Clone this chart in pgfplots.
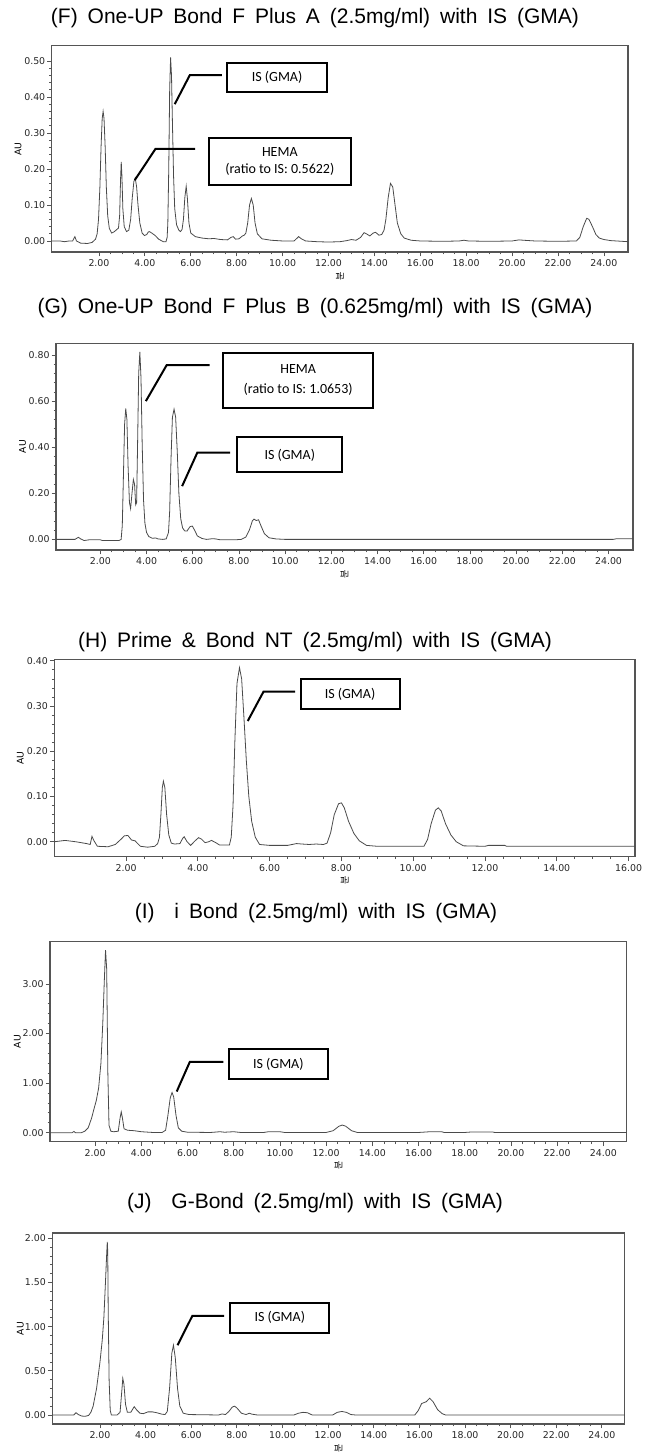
\documentclass[border=0pt]{standalone}
\usepackage{pgfplots}
\pgfplotsset{compat=1.18}
\usepackage{fontspec}
\setmainfont{Liberation Sans}
\newfontfamily\titlefont[WordSpace=1.7]{Liberation Sans}
\newfontfamily\tickfont{DejaVu Sans}
\newfontfamily\boxfont{Carlito}
\newfontfamily\krfont{Noto Sans CJK KR}
\definecolor{axgray}{HTML}{555555}
\definecolor{curvegray}{HTML}{4A4A4A}
\pgfplotsset{
  chrom/.style={
    scale only axis, anchor=south west,
    axis line style={axgray, line width=0.6pt},
    tick style={axgray, line width=0.4pt},
    tick align=outside, major tick length=2.2pt, minor tick length=1.2pt,
    xtick pos=bottom, ytick pos=left,
    xtick={2,4,...,24}, minor x tick num=3, minor y tick num=4,
    ticklabel style={font=\tickfont\fontsize{4.7}{5}\selectfont, text=black!85},
    yticklabel style={xshift=2.5pt}, xticklabel style={yshift=1.8pt},
    /pgf/number format/fixed, /pgf/number format/fixed zerofill,
    /pgf/number format/precision=2, /pgf/number format/assume math mode=true,
    ylabel={AU}, ylabel style={font=\tickfont\fontsize{4.6}{5}\selectfont, at={(axis description cs:0,0.5)}, anchor=center},
    xlabel={\krfont 분}, xlabel style={font=\fontsize{4.6}{5}\selectfont, at={(axis description cs:0.5,0)}, anchor=center, rotate=90},
    cycle list={{curvegray, line width=0.65pt, mark=none}},
  },
}
\tikzset{
  ann/.style={line width=1pt, black},
  boxtxt/.style={font=\boxfont\fontsize{7}{8.7}\selectfont, align=center},
}
\begin{document}
\begin{tikzpicture}
\useasboundingbox (0,0) rectangle (322pt,728pt);
% titles
\node[font=\titlefont\fontsize{10.5}{12}\selectfont] at (157.5pt,718.85pt) {(F) One-UP Bond F Plus A (2.5mg/ml) with IS (GMA)};
\node[font=\titlefont\fontsize{10.5}{12}\selectfont] at (157.5pt,573.85pt) {(G) One-UP Bond F Plus B (0.625mg/ml) with IS (GMA)};
\node[font=\titlefont\fontsize{10.5}{12}\selectfont] at (157.5pt,407.15pt) {(H) Prime \& Bond NT (2.5mg/ml) with IS (GMA)};
\node[font=\titlefont\fontsize{10.5}{12}\selectfont] at (158pt,271.35pt) {(I)\ \ i Bond (2.5mg/ml) with IS (GMA)};
\node[font=\titlefont\fontsize{10.5}{12}\selectfont] at (157.5pt,126.35pt) {(J)\ \ G-Bond (2.5mg/ml) with IS (GMA)};

% ---------------- F ----------------
\begin{axis}[chrom, at={(25.85pt,602pt)}, width=288.15pt, height=103.15pt,
  xmin=-0.06, xmax=25.05, ymin=-0.0306, ymax=0.5425, ytick={0,0.1,...,0.5},
  ylabel style={yshift=16.85pt}, xlabel style={xshift=-12pt}]
\addplot coordinates {(-0.06,0) (0.3,0.0) (0.5,-0.002) (0.7,0.0) (0.85,0.0) (0.95,0.012) (1.02,0.0) (1.2,-0.006) (1.5,-0.007) (1.7,-0.004) (1.85,0.005) (1.92,0.02) (1.98,0.06) (2.04,0.15) (2.09,0.26) (2.14,0.34) (2.18,0.36) (2.22,0.34) (2.27,0.26) (2.32,0.15) (2.38,0.07) (2.45,0.035) (2.55,0.022) (2.65,0.025) (2.78,0.032) (2.85,0.036) (2.9,0.07) (2.94,0.17) (2.97,0.22) (3.0,0.18) (3.04,0.09) (3.1,0.04) (3.2,0.026) (3.3,0.03) (3.38,0.06) (3.45,0.12) (3.52,0.165) (3.58,0.175) (3.64,0.15) (3.7,0.1) (3.78,0.05) (3.88,0.022) (3.98,0.015) (4.08,0.018) (4.15,0.025) (4.2,0.026) (4.3,0.022) (4.45,0.015) (4.6,0.005) (4.8,-0.002) (4.92,-0.002) (4.97,0.01) (5.0,0.05) (5.04,0.2) (5.08,0.42) (5.12,0.51) (5.16,0.46) (5.2,0.33) (5.25,0.18) (5.3,0.09) (5.38,0.045) (5.48,0.03) (5.55,0.026) (5.62,0.032) (5.68,0.06) (5.74,0.12) (5.8,0.152) (5.85,0.12) (5.92,0.05) (6.0,0.022) (6.2,0.012) (6.5,0.008) (6.8,0.006) (7.0,0.007) (7.3,0.004) (7.6,0.003) (7.75,0.01) (7.85,0.012) (7.95,0.005) (8.1,0.006) (8.25,0.014) (8.33,0.016) (8.4,0.022) (8.48,0.05) (8.56,0.1) (8.64,0.118) (8.72,0.1) (8.8,0.05) (8.9,0.02) (9.1,0.006) (9.5,0.002) (10.0,0.0) (10.5,0.0) (10.6,0.006) (10.7,0.012) (10.82,0.006) (11.0,0.0) (11.5,-0.002) (12.0,-0.003) (12.5,-0.002) (12.8,0.001) (13.0,0.004) (13.2,0.002) (13.4,0.01) (13.55,0.023) (13.65,0.02) (13.8,0.014) (13.95,0.022) (14.05,0.024) (14.2,0.016) (14.32,0.018) (14.42,0.03) (14.5,0.06) (14.6,0.12) (14.7,0.16) (14.8,0.15) (14.9,0.1) (15.0,0.05) (15.15,0.02) (15.3,0.008) (15.6,0.002) (16.0,0.0) (17.0,-0.001) (17.7,0.0) (17.9,0.002) (18.1,0.0) (19.0,-0.001) (20.0,0.0) (20.3,0.003) (20.5,0.002) (21.0,0.0) (22.0,-0.001) (22.8,0.0) (22.95,0.01) (23.1,0.04) (23.25,0.063) (23.35,0.06) (23.5,0.04) (23.65,0.018) (23.8,0.008) (24.0,0.004) (24.3,0.001) (25.05,-0.002)};
\draw[ann] (axis cs:7.36,0.461) -- (axis cs:5.96,0.461) -- (axis cs:5.30,0.38);
\draw[ann, fill=white] (axis cs:7.58,0.415) rectangle (axis cs:11.93,0.495);
\node[boxtxt] at (axis cs:9.76,0.455) {IS (GMA)};
\draw[ann] (axis cs:6.19,0.2556) -- (axis cs:4.46,0.2556) -- (axis cs:3.56,0.169);
\draw[ann, fill=white] (axis cs:6.78,0.156) rectangle (axis cs:12.97,0.287);
\node[boxtxt] at (axis cs:9.88,0.22) {HEMA\\(ratio to IS: 0.5622)};
\end{axis}

% ---------------- G ----------------
\begin{axis}[chrom, at={(28pt,453pt)}, width=288.5pt, height=103.35pt,
  xmin=0.08, xmax=25.06, ymin=-0.046, ymax=0.851, ytick={0,0.2,...,0.8},
  ylabel style={yshift=16.7pt}, xlabel style={xshift=-12pt}]
\addplot coordinates {(0.08,0) (0.9,0) (1.05,0.009) (1.15,0.002) (1.3,-0.005) (1.5,-0.002) (2.0,-0.002) (2.1,-0.005) (2.8,-0.005) (2.9,0.0) (2.95,0.06) (3.0,0.28) (3.05,0.5) (3.1,0.568) (3.15,0.52) (3.2,0.32) (3.26,0.16) (3.31,0.134) (3.37,0.2) (3.43,0.26) (3.48,0.24) (3.53,0.15) (3.57,0.16) (3.61,0.4) (3.66,0.72) (3.71,0.814) (3.76,0.7) (3.81,0.42) (3.87,0.17) (3.93,0.07) (4.0,0.03) (4.1,0.012) (4.25,0.005) (4.4,0.006) (4.5,0.002) (4.7,0.0) (4.85,0.002) (4.95,0.03) (5.0,0.12) (5.06,0.35) (5.12,0.53) (5.19,0.565) (5.26,0.53) (5.33,0.38) (5.4,0.2) (5.48,0.09) (5.56,0.05) (5.65,0.037) (5.75,0.036) (5.88,0.055) (5.98,0.058) (6.08,0.04) (6.2,0.015) (6.4,0.004) (6.6,0.0) (6.85,0.003) (7.0,0.002) (7.2,-0.002) (7.8,-0.002) (8.1,0.0) (8.3,0.01) (8.45,0.04) (8.58,0.08) (8.65,0.088) (8.75,0.082) (8.85,0.085) (8.95,0.06) (9.1,0.025) (9.3,0.007) (9.6,0.002) (10,0.0) (24.2,0.0) (24.35,0.003) (25.06,0.003)};
\draw[ann] (axis cs:6.73,0.756) -- (axis cs:4.87,0.756) -- (axis cs:3.97,0.600);
\draw[ann, fill=white] (axis cs:7.32,0.571) rectangle (axis cs:13.81,0.811);
\node[boxtxt, font=\boxfont\fontsize{7}{9.65}\selectfont] at (axis cs:10.565,0.692) {HEMA\\(ratio to IS: 1.0653)};
\draw[ann] (axis cs:7.62,0.377) -- (axis cs:6.20,0.377) -- (axis cs:5.54,0.231);
\draw[ann, fill=white] (axis cs:7.93,0.293) rectangle (axis cs:12.46,0.444);
\node[boxtxt] at (axis cs:10.2,0.366) {IS (GMA)};
\end{axis}

% ---------------- H ----------------
\begin{axis}[chrom, at={(27.15pt,299.65pt)}, width=290.35pt, height=98.6pt,
  xmin=0, xmax=16.18, ymin=-0.033, ymax=0.403, ytick={0,0.1,...,0.4}, xtick={2,4,...,16},
  ylabel style={yshift=17pt}, xlabel style={xshift=-12pt}]
\addplot coordinates {(0,0) (0.3,0.003) (0.6,0.0) (0.9,-0.004) (1.0,-0.006) (1.05,0.012) (1.1,0.003) (1.2,-0.01) (1.5,-0.011) (1.7,-0.006) (1.85,0.005) (1.95,0.013) (2.05,0.014) (2.15,0.004) (2.25,0.002) (2.4,-0.01) (2.6,-0.012) (2.8,-0.01) (2.88,-0.004) (2.93,0.01) (2.97,0.06) (3.01,0.12) (3.04,0.134) (3.08,0.12) (3.13,0.06) (3.19,0.015) (3.26,-0.003) (3.35,-0.005) (3.5,-0.004) (3.58,0.008) (3.62,0.011) (3.7,0.0) (3.8,-0.008) (3.92,0.002) (4.02,0.009) (4.1,0.006) (4.2,-0.002) (4.3,0.0) (4.38,0.003) (4.5,-0.002) (4.6,-0.007) (4.88,-0.007) (4.93,0.01) (4.98,0.08) (5.03,0.22) (5.09,0.35) (5.16,0.385) (5.22,0.36) (5.28,0.28) (5.35,0.18) (5.42,0.1) (5.5,0.045) (5.6,0.01) (5.72,-0.006) (6.0,-0.008) (6.5,-0.008) (6.75,-0.004) (6.9,-0.005) (7.1,-0.006) (7.3,-0.005) (7.5,-0.006) (7.6,-0.003) (7.7,0.02) (7.8,0.06) (7.92,0.084) (8.0,0.086) (8.08,0.075) (8.2,0.045) (8.35,0.018) (8.5,0.002) (8.7,-0.008) (9.0,-0.01) (10.3,-0.01) (10.4,0.005) (10.5,0.04) (10.62,0.07) (10.7,0.075) (10.78,0.068) (10.9,0.04) (11.05,0.015) (11.2,0.0) (11.4,-0.009) (12.0,-0.01) (12.1,-0.008) (12.55,-0.008) (12.6,-0.01) (16.18,-0.01)};
\draw[ann] (axis cs:6.71,0.332) -- (axis cs:5.83,0.332) -- (axis cs:5.39,0.267);
\draw[ann, fill=white] (axis cs:6.86,0.294) rectangle (axis cs:9.63,0.359);
\node[boxtxt] at (axis cs:8.24,0.326) {IS (GMA)};
\end{axis}

% ---------------- I ----------------
\begin{axis}[chrom, at={(25.05pt,157.15pt)}, width=288.3pt, height=100.1pt,
  xmin=0.05, xmax=25.01, ymin=-0.181, ymax=3.855, ytick={0,1,2,3},
  ylabel style={yshift=16.4pt}, xlabel style={xshift=-12pt}]
\addplot coordinates {(0.05,0) (1.0,0.0) (1.08,0.025) (1.15,0.0) (1.4,0.0) (1.55,0.03) (1.7,0.1) (1.85,0.3) (1.95,0.48) (2.05,0.65) (2.15,0.9) (2.25,1.4) (2.33,2.2) (2.4,3.1) (2.45,3.68) (2.5,3.3) (2.55,1.2) (2.6,0.15) (2.68,0.03) (2.8,0.02) (3.0,0.03) (3.08,0.3) (3.13,0.42) (3.18,0.3) (3.25,0.08) (3.4,0.05) (3.7,0.04) (4.0,0.02) (4.5,0.005) (4.9,0.005) (5.05,0.05) (5.15,0.35) (5.25,0.7) (5.33,0.81) (5.4,0.72) (5.5,0.35) (5.6,0.1) (5.75,0.03) (6.0,0.01) (7.0,0.005) (7.4,0.02) (7.6,0.01) (8.0,0.02) (8.3,0.005) (9.3,0.005) (9.5,0.02) (10.0,0.02) (10.2,0.005) (12.0,0.005) (12.3,0.04) (12.55,0.13) (12.7,0.155) (12.85,0.13) (13.1,0.04) (13.35,0.005) (16.0,0.005) (16.5,0.02) (17.0,0.02) (17.1,0.005) (18.0,0.005) (18.3,0.015) (19.2,0.015) (19.3,0.005) (25.01,0.005)};
\draw[ann] (axis cs:7.55,1.43) -- (axis cs:6.10,1.43) -- (axis cs:5.53,0.83);
\draw[ann, fill=white] (axis cs:7.78,1.077) rectangle (axis cs:12.07,1.68);
\node[boxtxt] at (axis cs:9.93,1.38) {IS (GMA)};
\end{axis}

% ---------------- J ----------------
\begin{axis}[chrom, at={(26.15pt,16pt)}, width=286.2pt, height=95.5pt,
  xmin=-0.09, xmax=25.0, ymin=-0.102, ymax=2.06, ytick={0,0.5,...,2},
  ylabel style={yshift=16pt}, xlabel style={xshift=-12pt}]
\addplot coordinates {(-0.09,0) (0.85,0) (0.95,0.026) (1.05,0.005) (1.2,-0.012) (1.35,-0.015) (1.5,-0.005) (1.6,0.03) (1.7,0.1) (1.85,0.3) (2.0,0.6) (2.1,0.85) (2.17,1.1) (2.24,1.5) (2.29,1.8) (2.32,1.96) (2.34,1.85) (2.36,1.2) (2.4,0.4) (2.45,0.05) (2.5,0.0) (2.75,0.0) (2.88,0.03) (2.95,0.25) (3.0,0.415) (3.05,0.35) (3.12,0.12) (3.2,0.03) (3.35,0.03) (3.5,0.094) (3.6,0.06) (3.75,0.02) (3.9,0.015) (4.1,0.035) (4.3,0.035) (4.5,0.025) (4.7,0.01) (4.85,0.005) (4.95,0.04) (5.05,0.3) (5.15,0.7) (5.22,0.79) (5.3,0.65) (5.4,0.3) (5.5,0.1) (5.65,0.02) (5.9,0.005) (7.2,0.0) (7.35,0.012) (7.5,0.005) (7.65,0.04) (7.8,0.09) (7.9,0.1) (8.0,0.08) (8.2,0.02) (8.4,0.005) (8.55,0.02) (8.65,0.01) (8.9,0.0) (10.5,0.0) (10.7,0.02) (10.9,0.03) (11.1,0.025) (11.3,0.0) (12.2,0.0) (12.4,0.03) (12.6,0.04) (12.8,0.03) (13.0,0.005) (13.2,0.0) (15.8,0.0) (15.95,0.05) (16.1,0.13) (16.2,0.14) (16.3,0.15) (16.45,0.19) (16.6,0.15) (16.8,0.06) (17.0,0.015) (17.15,0.0) (25.0,0.0)};
\draw[ann] (axis cs:7.44,1.123) -- (axis cs:6.05,1.123) -- (axis cs:5.40,0.79);
\draw[ann, fill=white] (axis cs:7.71,0.93) rectangle (axis cs:12.04,1.264);
\node[boxtxt] at (axis cs:9.88,1.1) {IS (GMA)};
\end{axis}
\end{tikzpicture}
\end{document}
